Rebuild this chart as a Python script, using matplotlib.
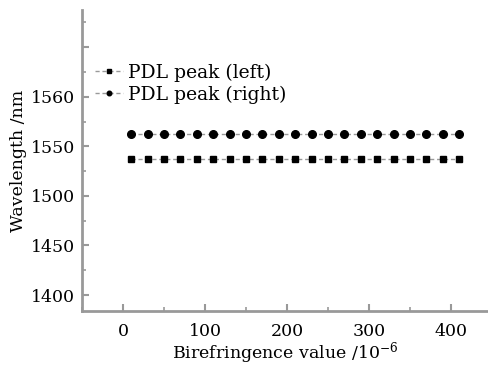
import numpy as np
import matplotlib
matplotlib.use("Agg")
import matplotlib.pyplot as plt
from matplotlib.ticker import FixedLocator, FixedFormatter

# data
birefringence = [10, 30, 50, 70, 90, 110, 130, 150, 170, 190, 210,
                 230, 250, 270, 290, 310, 330, 350, 370, 390, 410]
peak_left = [1537.5] * 21
peak_right = [1552.5] * 21

y_major = [1400, 1450, 1500, 1550, 1560, 1570]
y_labels = ["1400", "1450", "1500", "1550", "1560", ""]
y_minor = [1425, 1475, 1525, 1555, 1565, 1575]
x_major = [0, 100, 200, 300, 400]
x_minor = [-50, 50, 150, 250, 350]

BREAK = 1550.0
STRETCH = 5.0


def fwd(y):
    y = np.asarray(y, dtype=float)
    return np.where(y <= BREAK, y, BREAK + (y - BREAK) * STRETCH)


def inv(t):
    t = np.asarray(t, dtype=float)
    return np.where(t <= BREAK, t, BREAK + (t - BREAK) / STRETCH)


plt.rcParams['font.family'] = ['DejaVu Serif']
plt.rcParams['mathtext.fontset'] = 'dejavuserif'

FS = 12.5

fig = plt.figure(figsize=(4.88, 3.71), dpi=100)
ax = fig.add_axes([0.168, 0.162, 0.832, 0.811])
ax.set_yscale('function', functions=(fwd, inv))

ax.plot(birefringence, peak_left, linestyle=(0, (3, 2)), color='#999999', lw=1.0,
        marker='s', markersize=5, markerfacecolor='black', markeredgecolor='black',
        label='PDL peak (left)')
ax.plot(birefringence, peak_right, linestyle=(0, (3, 2)), color='#999999', lw=1.0,
        marker='o', markersize=5.5, markerfacecolor='black', markeredgecolor='black',
        label='PDL peak (right)')

ax.set_xlim(-50, 445)
ax.set_ylim(1384, 1577.5)

ax.xaxis.set_major_locator(FixedLocator(x_major))
ax.xaxis.set_minor_locator(FixedLocator(x_minor))
ax.yaxis.set_major_locator(FixedLocator(y_major))
ax.yaxis.set_major_formatter(FixedFormatter(y_labels))
ax.yaxis.set_minor_locator(FixedLocator(y_minor))
ax.yaxis.set_minor_formatter(FixedFormatter([""] * len(y_minor)))

for side in ['top', 'right']:
    ax.spines[side].set_visible(False)
for side in ['left', 'bottom']:
    ax.spines[side].set_color('#999999')
    ax.spines[side].set_linewidth(2)

ax.tick_params(which='both', direction='in', color='#999999', labelsize=FS)
ax.tick_params(which='major', length=5, width=1.5)
ax.tick_params(which='minor', length=3, width=1.2)
ax.tick_params(axis='x', pad=9)
ax.tick_params(axis='y', pad=5)

ax.set_xlabel(r'Birefringence value /10$^{-6}$', fontsize=FS, labelpad=0)
ax.set_ylabel('Wavelength /nm', fontsize=FS, labelpad=3)

leg = ax.legend(loc='upper left', bbox_to_anchor=(0.005, 0.86), frameon=False,
                fontsize=13.5, handlelength=1.5, handletextpad=0.25,
                borderaxespad=0.2, labelspacing=0.2, markerscale=0.6)

fig.savefig('out.png', dpi=100)
